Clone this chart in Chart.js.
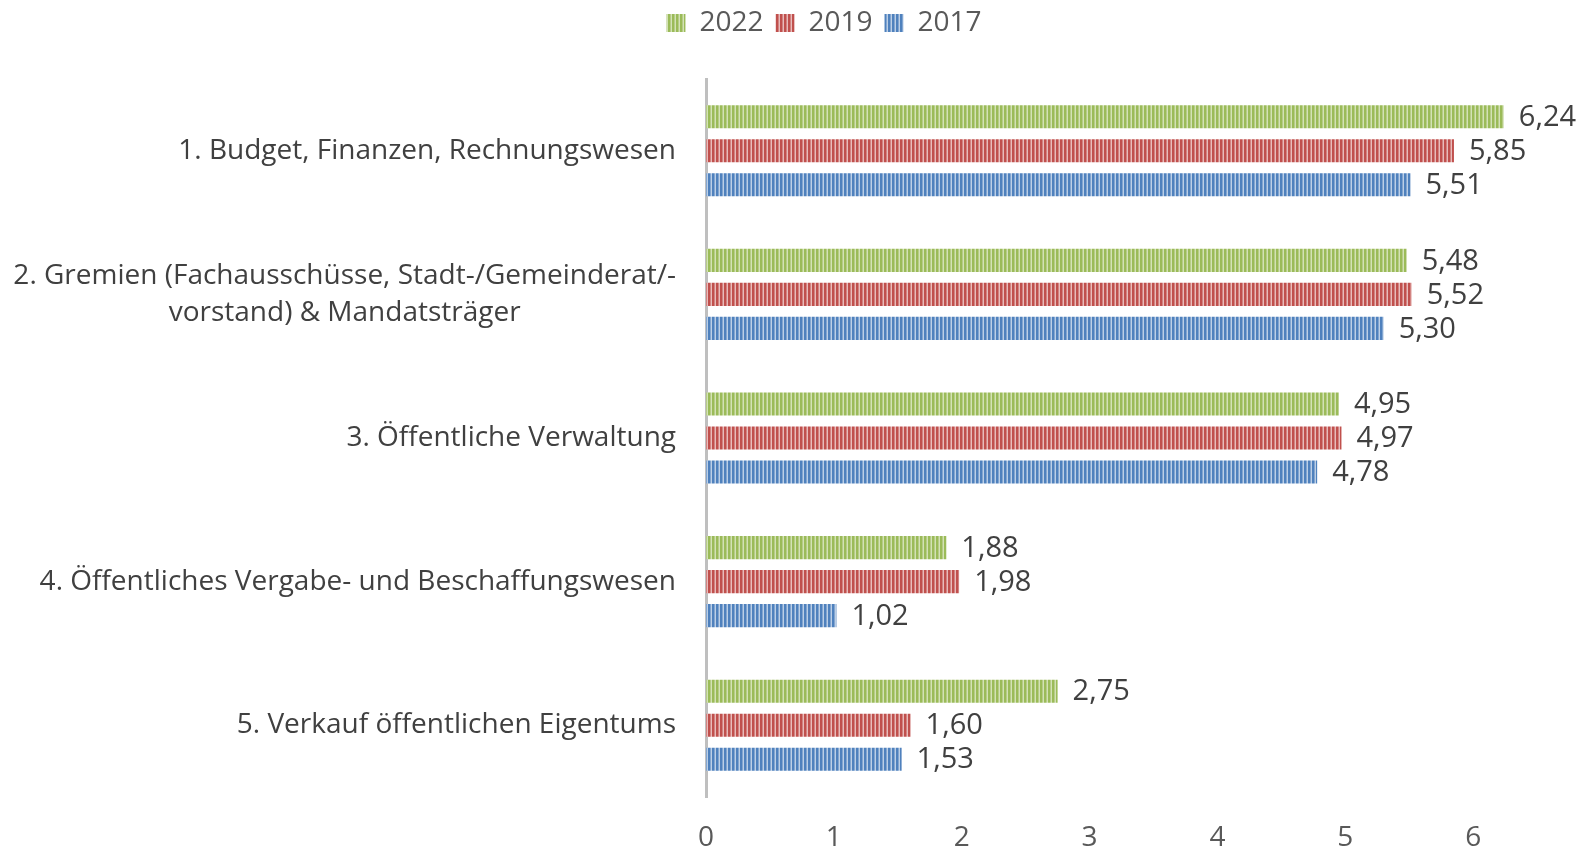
<!DOCTYPE html>
<html>
<head>
<meta charset="utf-8">
<script src="https://cdn.jsdelivr.net/npm/chart.js@4/dist/chart.umd.min.js"></script>
<style>
  html, body { margin: 0; padding: 0; background: #fff; overflow: hidden; }
  #wrap { width: 1633px; height: 849px; }
</style>
</head>
<body>
<div id="wrap"><canvas id="chart" width="1633" height="849"></canvas></div>
<script>
// --- datos del gráfico ---
const categorias = [
    ['1. Budget, Finanzen, Rechnungswesen'],
    ['2. Gremien (Fachausschüsse, Stadt-/Gemeinderat/-', 'vorstand) & Mandatsträger'],
    ['3. Öffentliche Verwaltung'],
    ['4. Öffentliches Vergabe- und Beschaffungswesen'],
    ['5. Verkauf öffentlichen Eigentums']
];
const serieNombres = ['2022', '2019', '2017'];
const valores2022 = [6.24, 5.48, 4.95, 1.88, 2.75];
const valores2019 = [5.85, 5.52, 4.97, 1.98, 1.60];
const valores2017 = [5.51, 5.30, 4.78, 1.02, 1.53];
const ticksX = [0, 1, 2, 3, 4, 5, 6, 7];

const FUENTE = '"Open Sans", "DejaVu Sans", sans-serif';
const canvas = document.getElementById('chart');
const ctx = canvas.getContext('2d');

// rayado vertical como en Excel
function rayas(oscuro, medio, claro) {
    const c = document.createElement('canvas');
    c.width = 4; c.height = 1;
    const g = c.getContext('2d');
    g.fillStyle = oscuro; g.fillRect(0, 0, 2, 1);
    g.fillStyle = medio; g.fillRect(2, 0, 1, 1);
    g.fillStyle = claro; g.fillRect(3, 0, 1, 1);
    return ctx.createPattern(c, 'repeat');
}

const colores = [
    rayas('#9bbb59', '#b7cd87', '#d3e2b6'),
    rayas('#c0504d', '#d38482', '#e8bcbb'),
    rayas('#4f81bd', '#83a6d1', '#bccfe6')
];

// etiquetas de categoría dibujadas a mano (la segunda va centrada en dos líneas)
const etiquetasCategorias = {
    id: 'etiquetasCategorias',
    afterDraw(chart) {
        const y = chart.scales.y;
        const c = chart.ctx;
        c.save();
        c.font = '28px ' + FUENTE;
        c.fillStyle = '#404040';
        c.textBaseline = 'middle';
        c.textAlign = 'center';
        const derecha = 676;
        const altoLinea = 37;
        categorias.forEach((lineas, i) => {
            const yc = y.getPixelForValue(i);
            const anchoMax = Math.max(...lineas.map(l => c.measureText(l).width));
            const centro = derecha - anchoMax / 2;
            lineas.forEach((l, j) => {
                const yy = yc + (j - (lineas.length - 1) / 2) * altoLinea;
                c.fillText(l, centro, yy);
            });
        });
        c.restore();
    }
};

// valores al final de cada barra
const etiquetasValores = {
    id: 'etiquetasValores',
    afterDatasetsDraw(chart) {
        const c = chart.ctx;
        c.save();
        c.font = '29px ' + FUENTE;
        c.fillStyle = '#404040';
        c.textAlign = 'left';
        c.textBaseline = 'middle';
        chart.data.datasets.forEach((ds, i) => {
            chart.getDatasetMeta(i).data.forEach((bar, j) => {
                c.fillText(ds.data[j].toFixed(2).replace('.', ','), bar.x + 15, bar.y + 1);
            });
        });
        c.restore();
    }
};

// alto fijo de la leyenda para que el área del gráfico empiece donde en el original
const altoLeyenda = {
    id: 'altoLeyenda',
    beforeUpdate(chart) {
        const leg = chart.legend;
        if (leg && !leg._ajustada) {
            const fitOriginal = leg.fit;
            leg.fit = function () {
                fitOriginal.call(this);
                this.height = 82;
            };
            leg._ajustada = true;
        }
    }
};

new Chart(canvas, {
    type: 'bar',
    data: {
        labels: categorias.map(l => l.join(' ')),
        datasets: [
            { label: serieNombres[0], data: valores2022, backgroundColor: colores[0] },
            { label: serieNombres[1], data: valores2019, backgroundColor: colores[1] },
            { label: serieNombres[2], data: valores2017, backgroundColor: colores[2] }
        ]
    },
    options: {
        indexAxis: 'y',
        responsive: false,
        animation: false,
        layout: { padding: { left: 33, right: 18, top: -3, bottom: 0 } },
        datasets: { bar: { categoryPercentage: 0.71, barPercentage: 0.68 } },
        scales: {
            y: {
                grid: { display: false, drawTicks: false },
                border: { display: true, color: '#bfbfbf', width: 3 },
                ticks: { display: false },
                afterFit: s => { s.width = 673; }
            },
            x: {
                min: 0,
                max: 7,
                afterBuildTicks: s => { s.ticks = ticksX.map(v => ({ value: v })); },
                grid: { display: false, drawTicks: false },
                border: { display: false },
                ticks: {
                    padding: 24,
                    color: '#595959',
                    font: { family: FUENTE, size: 28 }
                },
                afterFit: s => { s.height = 52; }
            }
        },
        plugins: {
            legend: {
                position: 'top',
                align: 'center',
                labels: {
                    boxWidth: 19,
                    boxHeight: 18,
                    padding: 12,
                    color: '#595959',
                    font: { family: FUENTE, size: 28 }
                }
            },
            tooltip: { enabled: false }
        }
    },
    plugins: [etiquetasCategorias, etiquetasValores, altoLeyenda]
});
</script>
</body>
</html>
